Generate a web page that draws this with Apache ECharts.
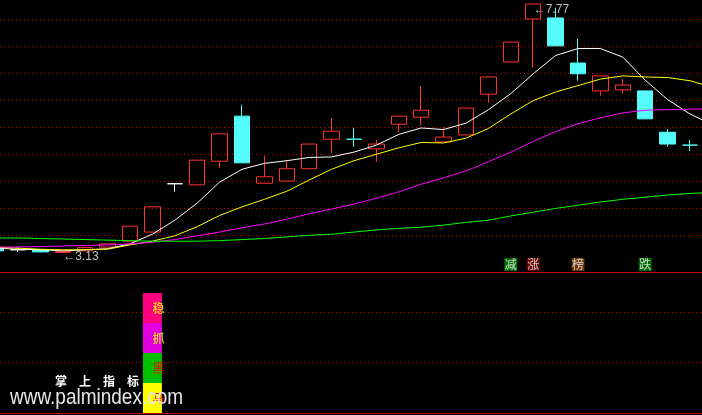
<!DOCTYPE html>
<html><head><meta charset="utf-8">
<script src="https://cdn.jsdelivr.net/npm/echarts@6/dist/echarts.min.js"></script>
<style>html,body{margin:0;padding:0;background:#000;}#c{width:702px;height:415px;}</style>
</head><body><div id="c"></div>
<script>
// ---- data ----
const categories = ['K01','K02','K03','K04','K05','K06','K07','K08','K09','K10','K11','K12','K13','K14','K15','K16','K17','K18','K19','K20','K21','K22','K23','K24','K25','K26','K27','K28','K29','K30','K31','K32','K33'];
const openP  = [3.23,3.19,3.19,3.14,3.17,3.24,3.35,3.52,4.42,4.40,4.84,5.68,4.43,4.47,4.70,5.25,5.25,5.07,5.53,5.66,5.20,5.33,6.09,6.69,7.49,7.51,6.67,6.15,6.17,6.15,5.38,5.14];
const closeP = [3.17,3.19,3.15,3.16,3.23,3.30,3.63,3.99,4.42,4.86,5.35,4.81,4.55,4.70,5.16,5.40,5.25,5.16,5.68,5.79,5.29,5.83,6.41,7.06,7.77,6.99,6.47,6.43,6.26,5.63,5.16,5.14];
const lowP   = [3.15,3.15,3.14,3.13,3.17,3.24,3.35,3.52,4.27,4.40,4.71,4.81,4.43,4.47,4.70,4.99,5.11,4.83,5.38,5.50,5.20,5.33,5.93,6.69,6.58,6.99,6.34,6.06,6.11,5.63,5.11,5.03];
const highP  = [3.25,3.24,3.20,3.16,3.25,3.30,3.63,3.99,4.42,4.86,5.35,5.89,4.94,4.86,5.16,5.65,5.46,5.24,5.68,6.24,5.48,5.83,6.41,7.06,7.77,7.70,7.12,6.43,6.37,6.15,5.44,5.24];
const whiteFlat = [1, 8];      // flat candles drawn white
const ma5  = [3.22,3.20,3.19,3.17,3.19,3.21,3.30,3.48,3.74,4.06,4.45,4.69,4.80,4.85,4.91,4.92,5.01,5.14,5.34,5.46,5.43,5.55,5.80,6.10,6.47,6.81,6.94,6.94,6.78,6.35,5.99,5.72,5.52];
const ma10 = [3.24,3.22,3.20,3.19,3.19,3.20,3.28,3.35,3.45,3.62,3.83,3.99,4.13,4.28,4.49,4.69,4.85,4.97,5.09,5.19,5.18,5.27,5.45,5.72,5.97,6.13,6.25,6.37,6.43,6.41,6.40,6.34,6.22];
const ma20 = [3.24,3.24,3.25,3.26,3.27,3.28,3.30,3.33,3.38,3.45,3.52,3.60,3.67,3.76,3.86,3.95,4.04,4.15,4.27,4.41,4.53,4.66,4.83,5.01,5.21,5.39,5.54,5.65,5.74,5.79,5.80,5.81,5.82];
const ma60 = [3.41,3.41,3.40,3.39,3.38,3.37,3.36,3.35,3.35,3.35,3.36,3.38,3.40,3.43,3.46,3.48,3.52,3.56,3.59,3.61,3.65,3.70,3.74,3.82,3.89,3.96,4.02,4.08,4.13,4.17,4.21,4.24,4.26];
const signalIdx  = [23, 24, 26, 29];
const signalText = ['减', '涨', '榜', '跌'];
const stackIdx   = 7;
const stackText  = ['马', '黑', '抓', '稳'];   // bottom to top
const stackVal   = [1, 1, 1, 1];

// ---- styles / layout ----
const RED = '#ff3232', CYAN = '#54fcfc', GRIDC = '#c80000';
const signalBg = ['#008000', '#800000', '#804000', '#008000'];
const stackBg  = ['#ffff00', '#00c000', '#e000e0', '#ff0080'];
const stackFg  = ['#ff0000', '#ff0000', '#ffff00', '#ffff00'];
const STEP = 22.4;                 // px per trading day
const X_MIN = 4.4 / STEP;          // first (partial) day sits just left of the frame
const X_MAX = X_MIN + 702 / STEP;
const SIGNAL_Y = 7.5;
const STACK_W = 19;

const candleData = openP.map((o, i) => {
  const item = { name: categories[i], value: [i, o, closeP[i], lowP[i], highP[i]] };
  if (o === closeP[i]) {
    const c = whiteFlat.indexOf(i) >= 0 ? '#ffffff' : CYAN;
    item.itemStyle = { borderColor: c, borderColor0: c, borderColorDoji: c, color: c, color0: c };
  }
  return item;
});

const lineSeries = [[ma5, '#ffffff'], [ma10, '#ffff00'], [ma20, '#ff00ff'], [ma60, '#00ff00']].map(([d, c]) => ({
  type: 'line', xAxisIndex: 0, yAxisIndex: 0, data: d.map((v, i) => [i, v]), symbol: 'none', silent: true,
  lineStyle: { color: c, width: 1 }, itemStyle: { color: c }, z: 3
}));

const sigData = signalIdx.map((x, k) => ({
  value: [x, SIGNAL_Y], name: signalText[k], itemStyle: { color: signalBg[k] }
}));

// stacked segments [x, from, to, k]
let acc = 0;
const stackData = stackVal.map((v, k) => { const row = [stackIdx, acc, acc + v, k]; acc += v; return row; });

const dayAxis = (g) => ({
  type: 'value', gridIndex: g, min: X_MIN, max: X_MAX,
  axisLine: { show: true, onZero: false, lineStyle: { color: GRIDC, width: 1 } },
  axisTick: { show: false }, axisLabel: { show: false }, splitLine: { show: false }
});
const helperY = (g, max) => ({
  type: 'value', gridIndex: g, min: 0, max: max, interval: 1,
  axisLine: { show: false }, axisTick: { show: false }, axisLabel: { show: false },
  splitLine: { show: true, lineStyle: { color: GRIDC, width: 1, type: [1, 3] } }
});

const option = {
  backgroundColor: '#000',
  animation: false,
  grid: [
    { left: 0, right: 0, top: 0, height: 272 },
    { left: 0, right: 0, top: 272, height: 141 },
    { left: 0, right: 0, top: 19, height: 216 },
    { left: 0, right: 0, top: 312, height: 50 }
  ],
  xAxis: [
    dayAxis(0), dayAxis(1),
    { type: 'value', gridIndex: 2, min: 0, max: 1, show: false },
    { type: 'value', gridIndex: 3, min: 0, max: 1, show: false }
  ],
  yAxis: [
    { type: 'value', gridIndex: 0, min: 2.7758, max: 7.8445, show: false },
    { type: 'value', gridIndex: 0, min: 0, max: 272, show: false },
    { type: 'value', gridIndex: 1, min: 0, max: 4.7, show: false },
    helperY(2, 8), helperY(3, 1)
  ],
  series: [
    {
      type: 'candlestick', xAxisIndex: 0, yAxisIndex: 0, data: candleData, barWidth: 16, silent: true,
      itemStyle: { color: 'rgba(0,0,0,0)', color0: CYAN, borderColor: RED, borderColor0: CYAN, borderWidth: 1 },
      markPoint: {
        symbol: 'circle', symbolSize: 1, itemStyle: { color: 'rgba(0,0,0,0)' }, silent: true,
        label: { show: true, position: 'right', distance: 0, color: '#c0c0c0', fontSize: 12,
          fontFamily: 'Liberation Sans', formatter: p => '←' + Number(p.value).toFixed(2) },
        data: [
          { type: 'max', valueDim: 'highest', label: { offset: [0, 6] } },
          { type: 'min', valueDim: 'lowest', label: { offset: [0, 4] } }
        ]
      }
    },
    ...lineSeries,
    {
      type: 'scatter', xAxisIndex: 0, yAxisIndex: 1, data: sigData, symbol: 'rect', symbolSize: 13, silent: true, z: 4,
      label: { show: true, position: 'inside', formatter: p => p.name, color: '#ffffff', fontSize: 12, fontFamily: 'Noto Sans CJK SC' }
    },
    {
      type: 'custom', xAxisIndex: 1, yAxisIndex: 2, data: stackData, silent: true, z: 2,
      renderItem: (params, api) => {
        const x = api.value(0), lo = api.value(1), hi = api.value(2), k = api.value(3);
        const top = api.coord([x, hi]), bot = api.coord([x, lo]);
        return {
          type: 'group',
          children: [
            { type: 'rect', shape: { x: top[0] - STACK_W / 2, y: top[1], width: STACK_W, height: bot[1] - top[1] },
              style: { fill: stackBg[k] } },
            { type: 'text', x: top[0], y: (top[1] + bot[1]) / 2,
              style: { text: stackText[k], fill: stackFg[k], font: '12px "Noto Sans CJK SC"', align: 'left', verticalAlign: 'middle' } }
          ]
        };
      }
    }
  ],
  graphic: [
    { type: 'text', x: 55, y: 381, z: 100, style: { text: '掌　上　指　标', fill: '#ffffff', font: 'bold 12px "Noto Sans CJK SC"', verticalAlign: 'middle' } },
    { type: 'text', x: 10, y: 398, z: 100, scaleX: 0.863, style: { text: 'www.palmindex.com', fill: '#e6e6e6', font: '22px "Liberation Sans"', verticalAlign: 'middle' } }
  ]
};
const chart = echarts.init(document.getElementById('c'));
chart.setOption(option);
</script></body></html>
